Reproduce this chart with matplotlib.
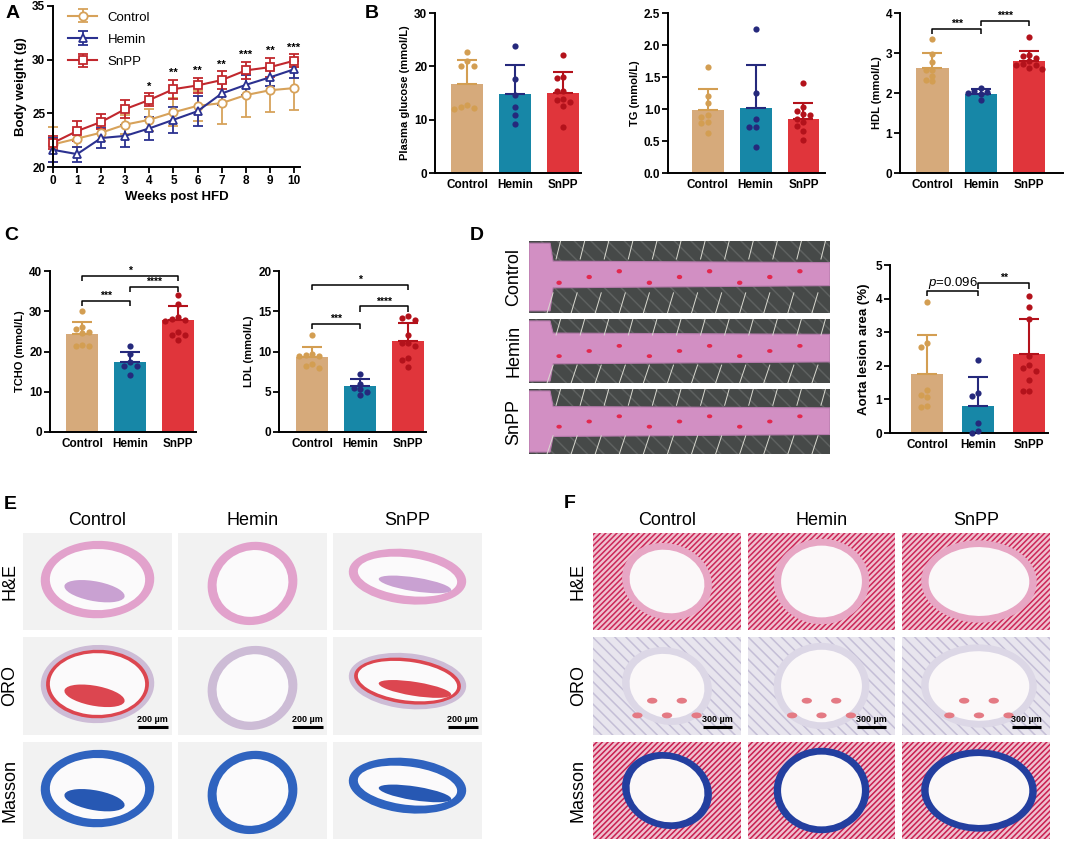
import numpy as np
import matplotlib.pyplot as plt
from matplotlib.patches import Ellipse, Rectangle, Polygon, Circle

plt.rcParams['font.family'] = ['Liberation Sans', 'DejaVu Sans']
plt.rcParams['mathtext.fontset'] = 'custom'
plt.rcParams['mathtext.rm'] = 'Liberation Sans'
plt.rcParams['mathtext.it'] = 'Liberation Sans:italic'
plt.rcParams['hatch.linewidth'] = 1.1

W, H = 1065, 843

# ---------------- data ----------------
groups = ["Control", "Hemin", "SnPP"]
weeks = np.arange(0, 11)
bw_ctrl = [22.1, 22.65, 23.2, 23.95, 24.4, 25.1, 25.7, 25.95, 26.7, 27.15, 27.35]
bw_ctrl_sd = [1.6, 0.8, 0.8, 0.9, 1.0, 1.3, 1.4, 1.9, 2.0, 2.0, 2.0]
bw_hemin = [21.6, 21.2, 22.7, 22.9, 23.6, 24.4, 25.2, 26.85, 27.65, 28.35, 29.1]
bw_hemin_sd = [1.1, 0.7, 0.9, 1.0, 1.1, 1.2, 1.4, 1.1, 0.9, 0.8, 0.8]
bw_snpp = [22.25, 23.35, 24.2, 25.4, 26.25, 27.25, 27.6, 28.1, 29.0, 29.3, 29.9]
bw_snpp_sd = [0.6, 0.9, 0.7, 0.8, 0.6, 0.9, 0.7, 0.8, 0.8, 0.9, 0.6]
bw_stars = ["", "", "", "", "*", "**", "**", "**", "***", "**", "***"]

glu_mean = [16.6, 14.75, 15.05]
glu_sd = [4.6, 5.45, 3.85]
glu_pts = [[22.6, 21.0, 20.1, 20.0, 12.8, 12.4, 12.1, 12.0],
           [23.8, 17.7, 14.7, 12.3, 10.9, 9.1],
           [22.2, 18.0, 17.8, 15.4, 15.4, 13.9, 13.6, 13.3, 12.6, 8.6]]

tg_mean = [0.98, 1.02, 0.84]
tg_sd = [0.33, 0.66, 0.25]
tg_pts = [[1.66, 1.2, 1.09, 0.9, 0.88, 0.8, 0.78, 0.62],
          [2.25, 1.25, 0.84, 0.72, 0.72, 0.41],
          [1.41, 1.03, 0.97, 0.92, 0.9, 0.85, 0.79, 0.73, 0.65, 0.52]]

hdl_mean = [2.62, 1.98, 2.79]
hdl_sd = [0.38, 0.13, 0.26]
hdl_pts = [[3.34, 2.98, 2.77, 2.58, 2.58, 2.43, 2.32, 2.29],
           [2.12, 2.05, 2.03, 2.0, 1.98, 1.83],
           [3.4, 2.95, 2.93, 2.88, 2.8, 2.72, 2.7, 2.7, 2.62, 2.6]]

tcho_mean = [24.4, 17.3, 27.75]
tcho_sd = [3.0, 2.6, 3.6]
tcho_pts = [[30.0, 26.1, 25.6, 24.9, 24.6, 21.7, 21.4, 21.4],
            [21.4, 19.3, 17.3, 16.5, 16.3, 14.2],
            [34.0, 31.7, 28.5, 28.0, 27.8, 27.5, 24.8, 24.2, 24.0, 22.8]]

ldl_mean = [9.3, 5.7, 11.3]
ldl_sd = [1.3, 0.9, 2.3]
ldl_pts = [[12.0, 9.7, 9.6, 9.5, 9.4, 8.5, 8.2, 7.9],
           [7.2, 6.0, 5.5, 5.3, 5.0, 4.6],
           [14.4, 14.1, 13.9, 12.0, 11.1, 11.0, 10.7, 9.2, 9.0, 8.1]]

aorta_mean = [1.76, 0.79, 2.34]
aorta_sd = [1.16, 0.87, 1.05]
aorta_pts = [[3.9, 2.68, 2.57, 1.27, 1.12, 1.06, 0.79, 0.78],
             [2.17, 1.2, 1.1, 0.29, 0.05, 0.0],
             [4.07, 3.76, 3.4, 2.29, 2.02, 1.93, 1.86, 1.59, 1.26, 1.24]]

stains = ["H&E", "ORO", "Masson"]

# ---------------- colours ----------------
line_cols = ["#d7a25a", "#2b3190", "#c1272d"]
bar_cols = ["#d6aa7b", "#1787a7", "#e0353b"]
dot_cols = ["#d39e52", "#25297c", "#b3121b"]

fig = plt.figure(figsize=(W / 100, H / 100), dpi=100)


def px_axes(x0, y0, x1, y1):
    return fig.add_axes([x0 / W, 1 - y1 / H, (x1 - x0) / W, (y1 - y0) / H])


def style_axes(ax, fs=8.5):
    for s in ["top", "right"]:
        ax.spines[s].set_visible(False)
    for s in ["left", "bottom"]:
        ax.spines[s].set_linewidth(1.4)
    ax.tick_params(width=1.3, length=4, labelsize=fs, pad=1.5)
    for lab in ax.get_xticklabels() + ax.get_yticklabels():
        lab.set_fontweight("bold")


def swarm(vals, xstep, ythr):
    order = np.argsort(vals)[::-1]
    placed = []
    offs = np.zeros(len(vals))
    cands = [0, -1, 1, -2, 2, -3, 3]
    for i in order:
        for c in cands:
            ok = True
            for pc, pv in placed:
                if pc == c and abs(vals[i] - pv) < ythr:
                    ok = False
                    break
            if ok:
                offs[i] = c * xstep
                placed.append((c, vals[i]))
                break
    return offs


def bracket(ax, x1, x2, y, h, text, fs=7.5, bold=True):
    ax.plot([x1, x1, x2, x2], [y - h, y, y, y - h], color="k", lw=1.1,
            clip_on=False, solid_capstyle="butt")
    ax.text((x1 + x2) / 2, y, text, ha="center", va="bottom", fontsize=fs,
            fontweight="bold" if bold else "normal")


def bar_panel(box, means, sds, pts, ymax, yticks, ylabel, ppu, xl, xr):
    ax = px_axes(*box)
    axh = box[3] - box[1]
    x = np.arange(3)
    ax.bar(x, means, width=32 / ppu, color=bar_cols, zorder=1)
    for i in range(3):
        ax.errorbar(x[i], means[i], yerr=[[0], [sds[i]]], color=dot_cols[i],
                    lw=1.5, capsize=7, capthick=1.5, zorder=2)
        offs = swarm(np.array(pts[i]), 6.5 / ppu, 5.5 * ymax / axh)
        ax.scatter(x[i] + offs, pts[i], s=20, color=dot_cols[i], lw=0,
                   zorder=3, clip_on=False)
    ax.set_xlim(xl, xr)
    ax.set_ylim(0, ymax)
    ax.set_yticks(yticks)
    ax.set_xticks(x)
    ax.set_xticklabels(groups)
    ax.set_ylabel(ylabel, fontsize=8, fontweight="bold", labelpad=3)
    style_axes(ax)
    ax.tick_params(axis="x", length=0, pad=4)
    return ax


def label(x, y, s):
    fig.text(x / W, 1 - y / H, s, fontsize=14, fontweight="bold",
             ha="left", va="center")


# ---------------- A ----------------
axA = px_axes(53, 6, 300, 167)
for m, sd, col, mk, name in [(bw_ctrl, bw_ctrl_sd, line_cols[0], "o", "Control"),
                             (bw_hemin, bw_hemin_sd, line_cols[1], "^", "Hemin"),
                             (bw_snpp, bw_snpp_sd, line_cols[2], "s", "SnPP")]:
    axA.errorbar(weeks, m, yerr=sd, color=col, lw=1.5, marker=mk, ms=6,
                 mfc="white", mew=1.3, capsize=3.5, capthick=1.3,
                 elinewidth=1.3, label=name, clip_on=False)
for wk, st in zip(weeks, bw_stars):
    if st:
        axA.text(wk, bw_snpp[wk] + bw_snpp_sd[wk] + 0.15, st, ha="center",
                 va="bottom", fontsize=8, fontweight="bold")
axA.set_xlim(0, 10.25)
axA.set_ylim(20, 35)
axA.set_xticks(weeks)
axA.set_yticks([20, 25, 30, 35])
axA.set_xlabel("Weeks post HFD", fontsize=9.5, fontweight="bold", labelpad=3)
axA.set_ylabel("Body weight (g)", fontsize=9.5, fontweight="bold", labelpad=4)
style_axes(axA, fs=8.5)
leg = axA.legend(loc="upper left", bbox_to_anchor=(0.04, 1.0), frameon=False,
                 fontsize=9.5, handlelength=2.2, borderaxespad=0,
                 labelspacing=0.75)

# ---------------- B ----------------
bar_panel((435, 13, 581, 173), glu_mean, glu_sd, glu_pts, 30, [0, 10, 20, 30],
          "Plasma glucose (mmol/L)", 48, -0.67, 2.37)
bar_panel((668, 13, 825, 173), tg_mean, tg_sd, tg_pts, 2.5,
          [0, 0.5, 1.0, 1.5, 2.0, 2.5], "TG (mmol/L)", 48, -0.83, 2.45)
axB3 = bar_panel((900, 13, 1063, 173), hdl_mean, hdl_sd, hdl_pts, 4,
                 [0, 1, 2, 3, 4], "HDL (mmol/L)", 48, -0.67, 2.7)
bracket(axB3, 0, 1, 3.6, 0.12, "***")
bracket(axB3, 1, 2, 3.8, 0.12, "****")

# ---------------- C ----------------
axC1 = bar_panel((50, 271, 196, 432), tcho_mean, tcho_sd, tcho_pts, 40,
                 [0, 10, 20, 30, 40], "TCHO (mmol/L)", 48, -0.67, 2.37)
bracket(axC1, 0, 1, 32.6, 1.3, "***")
bracket(axC1, 1, 2, 36.0, 1.3, "****")
bracket(axC1, 0, 2, 38.8, 1.3, "*")
axC2 = bar_panel((279, 271, 426, 432), ldl_mean, ldl_sd, ldl_pts, 20,
                 [0, 5, 10, 15, 20], "LDL (mmol/L)", 48, -0.69, 2.37)
bracket(axC2, 0, 1, 13.4, 0.65, "***")
bracket(axC2, 1, 2, 15.6, 0.65, "****")
bracket(axC2, 0, 2, 18.3, 0.65, "*")

# ---------------- D bars ----------------
axD = bar_panel((890, 265, 1048, 433), aorta_mean, aorta_sd, aorta_pts, 5,
                [0, 1, 2, 3, 4, 5], "Aorta lesion area (%)", 51, -0.73, 2.37)
axD.set_ylabel("Aorta lesion area (%)", fontsize=9.5, fontweight="bold", labelpad=4)
bracket(axD, 0, 1, 4.24, 0.17, r"$\it{p}$=0.096", fs=9.5, bold=False)
bracket(axD, 1, 2, 4.46, 0.17, "**")


# ---------------- picture helpers ----------------
def pic_axes(x0, y0, x1, y1, bg, hatch=None, hcol=None):
    ax = px_axes(x0, y0, x1, y1)
    ax.set_xlim(0, 1)
    ax.set_ylim(0, 1)
    ax.axis("off")
    ax.add_patch(Rectangle((0, 0), 1, 1, facecolor=bg, edgecolor="none"))
    if hatch:
        ax.add_patch(Rectangle((0, 0), 1, 1, facecolor="none", edgecolor=hcol,
                               hatch=hatch, lw=0))
    return ax


def scalebar(ax, txt, x0, x1):
    ax.plot([x0, x1], [0.08, 0.08], color="k", lw=2.2, solid_capstyle="butt")
    ax.text((x0 + x1) / 2, 0.11, txt, ha="center", va="bottom", fontsize=6.5,
            fontweight="bold")


# ---------------- D photos ----------------
strip_rows = [(241, 313), (319, 383), (389, 454)]
for r, (y0, y1) in enumerate(strip_rows):
    ax = pic_axes(529, y0, 830, y1, "#464948", hatch="\\\\", hcol="#5e6160")
    for k in range(12):
        xx = 0.06 + k * 0.08
        ax.plot([xx, xx + 0.02], [0.0, 0.28], color="#d9d9d0", lw=0.7)
        ax.plot([xx + 0.03, xx + 0.045], [0.75, 1.0], color="#d9d9d0", lw=0.7)
    top = [0.72, 0.78, 0.73][r]
    bot = [0.35, 0.3, 0.27][r]
    ax.add_patch(Polygon([(0, 0.03), (0.07, 0.03), (0.08, bot), (1, bot + 0.03),
                          (1, top - 0.02), (0.08, top), (0.07, 0.97), (0, 0.97)],
                         closed=True, facecolor="#d28fc3", edgecolor="#b57aab",
                         lw=0.8))
    for k in range(9):
        xx = 0.1 + k * 0.1
        ax.add_patch(Ellipse((xx, 0.5 + 0.08 * ((k % 3) - 1)), 0.018, 0.06,
                             color="#e2284e", lw=0))
    ax.text(-0.05, 0.5, groups[r], rotation=90, ha="center", va="center",
            fontsize=13, transform=ax.transAxes)

# ---------------- E histology ----------------
e_cols = [(23, 172), (178, 327), (333, 482)]
e_rows = [(533, 630), (637, 735), (742, 839)]
ring_geo = [((0.5, 0.52), 0.76, 0.8, -12), ((0.5, 0.48), 0.6, 0.86, -5),
            ((0.5, 0.55), 0.8, 0.56, -14)]
ring_col = {"H&E": "#e2a2cc", "ORO": "#cdbcd6", "Masson": "#2f63bf"}
inner_col = {"H&E": "#c9a1d2", "ORO": "#dc4650", "Masson": "#2758b3"}
for r, st in enumerate(stains):
    for c in range(3):
        x0, x1 = e_cols[c]
        y0, y1 = e_rows[r]
        ax = pic_axes(x0, y0, x1, y1, "#f2f2f2")
        (cx, cy), w, h, ang = ring_geo[c]
        ax.add_patch(Ellipse((cx, cy), w, h, angle=ang, facecolor=ring_col[st],
                             edgecolor="none"))
        if st == "ORO" and c != 1:
            ax.add_patch(Ellipse((cx, cy), w - 0.07, h - 0.1, angle=ang,
                                 facecolor=inner_col[st], edgecolor="none"))
        ax.add_patch(Ellipse((cx, cy), w - 0.12, h - 0.17, angle=ang,
                             facecolor="#fbfafb", edgecolor="none"))
        if c == 0:
            ax.add_patch(Ellipse((cx - 0.02, cy - 0.12), 0.42, 0.2, angle=-18,
                                 facecolor=inner_col[st], edgecolor="none"))
        if c == 2:
            ax.add_patch(Ellipse((cx + 0.05, cy - 0.08), 0.5, 0.14, angle=-14,
                                 facecolor=inner_col[st], edgecolor="none"))
        if st == "ORO":
            scalebar(ax, "200 µm", 0.77, 0.97)
        if r == 0:
            ax.text(0.5, 1.04, groups[c], ha="center", va="bottom",
                    fontsize=13, transform=ax.transAxes)
        if c == 0:
            ax.text(-0.09, 0.5, st, rotation=90, ha="center", va="center",
                    fontsize=13, transform=ax.transAxes)

# ---------------- F histology ----------------
f_cols = [(593, 741), (748, 895), (902, 1050)]
f_bg = {"H&E": ("#efc0cf", "//////", "#cc2658"),
        "ORO": ("#e8e5ee", "\\\\\\", "#c4bed6"),
        "Masson": ("#efc0cf", "//////", "#c91f50")}
f_ring = {"H&E": "#e7a6c4", "ORO": "#dcd7e6", "Masson": "#233f9f"}
f_geo = [((0.5, 0.5), 0.6, 0.8, 10), ((0.5, 0.5), 0.65, 0.88, 0),
         ((0.52, 0.5), 0.78, 0.85, 5)]
for r, st in enumerate(stains):
    for c in range(3):
        x0, x1 = f_cols[c]
        y0, y1 = e_rows[r]
        bg, hat, hc = f_bg[st]
        ax = pic_axes(x0, y0, x1, y1, bg, hatch=hat, hcol=hc)
        (cx, cy), w, h, ang = f_geo[c]
        ax.add_patch(Ellipse((cx, cy), w, h, angle=ang, facecolor=f_ring[st],
                             edgecolor="none"))
        ax.add_patch(Ellipse((cx, cy), w - 0.1, h - 0.14, angle=ang,
                             facecolor="#fbf8f9", edgecolor="none"))
        if st == "ORO":
            for k in range(5):
                ax.add_patch(Ellipse((cx - 0.2 + 0.1 * k, cy - 0.3 + 0.15 * (k % 2)),
                                     0.07, 0.06, facecolor="#e47a84",
                                     edgecolor="none"))
            scalebar(ax, "300 µm", 0.74, 0.94)
        if r == 0:
            ax.text(0.5, 1.04, groups[c], ha="center", va="bottom",
                    fontsize=13, transform=ax.transAxes)
        if c == 0:
            ax.text(-0.1, 0.5, st, rotation=90, ha="center", va="center",
                    fontsize=13, transform=ax.transAxes)

# ---------------- panel letters ----------------
label(6, 14, "A")
label(365, 14, "B")
label(4, 236, "C")
label(470, 236, "D")
label(4, 505, "E")
label(564, 503, "F")

fig.savefig("out.png", dpi=100)
